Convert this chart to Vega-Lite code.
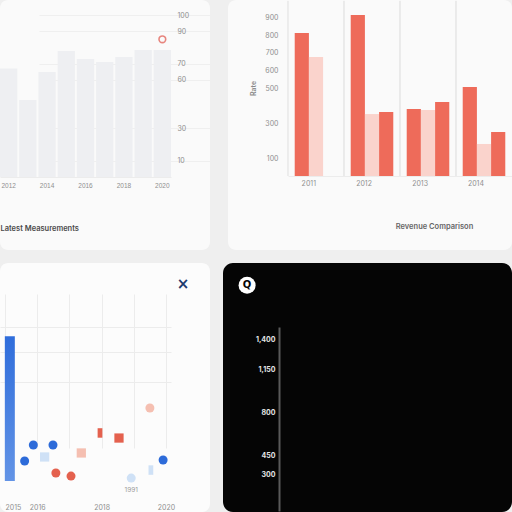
{
  "$schema": "https://vega.github.io/schema/vega-lite/v6.json",
  "background": "#efefef",
  "padding": 0,
  "spacing": 13,
  "resolve": {"scale": {"color": "independent", "shape": "independent", "size": "independent"}},
  "vconcat": [
    {
      "spacing": 18,
      "bounds": "flush",
      "resolve": {"scale": {"color": "independent"}},
      "hconcat": [
        {
          "width": 210,
          "height": 250,
          "view": {"fill": "#fafafa", "stroke": null, "cornerRadius": 8},
          "layer": [
            {
              "data": {"values": [
                {"year": "2012", "reading": 67},
                {"year": "2013", "reading": 47.5},
                {"year": "2014", "reading": 64.8},
                {"year": "2015", "reading": 77.8},
                {"year": "2016", "reading": 72.8},
                {"year": "2017", "reading": 71},
                {"year": "2018", "reading": 74},
                {"year": "2019", "reading": 78.4},
                {"year": "2020", "reading": 78.4}
              ]},
              "mark": {"type": "bar", "color": "#eeeff2"},
              "encoding": {
                "x": {
                  "field": "year", "type": "ordinal",
                  "scale": {"range": [0, 171], "paddingInner": 0.1, "paddingOuter": 0},
                  "axis": {
                    "values": ["2012", "2014", "2016", "2018", "2020"],
                    "labelFont": "Liberation Sans", "labelFontSize": 6.5,
                    "labelAngle": 0, "offset": -73, "labelPadding": 5,
                    "domain": true, "domainColor": "#ececec",
                    "title": "Latest Measurements", "titleAnchor": "start",
                    "titlePadding": 36, "titleFontSize": 7.5, "titleFontWeight": 600,
                    "titleColor": "#4a4a4a"
                  }
                },
                "y": {
                  "field": "reading", "type": "quantitative",
                  "scale": {"domain": [0, 100], "range": [177, 15], "nice": false},
                  "axis": {
                    "orient": "right", "offset": -38, "labelPadding": 5,
                    "values": [10, 30, 60, 70, 90, 100],
                    "grid": true, "gridColor": "#efefef", "title": null
                  }
                }
              }
            },
            {
              "data": {"values": [{"year": "2020", "reading": 85}]},
              "mark": {"type": "point", "shape": "circle", "filled": false, "color": "#e0544a", "size": 45, "strokeWidth": 1.6},
              "encoding": {
                "x": {"field": "year", "type": "ordinal"},
                "y": {"field": "reading", "type": "quantitative"}
              }
            }
          ]
        },
        {
          "width": 284,
          "height": 250,
          "view": {"fill": "#fafafa", "stroke": null, "cornerRadius": 8},
          "data": {"values": [
            {"year": "2011", "series": "North", "sales": 812},
            {"year": "2011", "series": "Central", "sales": 676},
            {"year": "2012", "series": "North", "sales": 915},
            {"year": "2012", "series": "Central", "sales": 352},
            {"year": "2012", "series": "South", "sales": 364},
            {"year": "2013", "series": "North", "sales": 381},
            {"year": "2013", "series": "Central", "sales": 375},
            {"year": "2013", "series": "South", "sales": 420},
            {"year": "2014", "series": "North", "sales": 506},
            {"year": "2014", "series": "Central", "sales": 182},
            {"year": "2014", "series": "South", "sales": 250}
          ]},
          "layer": [
            {
              "mark": {"type": "rule", "color": "#e8e8e8", "strokeWidth": 1},
              "encoding": {
                "x": {"field": "year", "type": "ordinal", "bandPosition": -0.158},
                "y": {"datum": 995, "type": "quantitative"},
                "y2": {"datum": 0}
              }
            },
            {
              "mark": {"type": "bar"},
              "encoding": {
                "x": {
                  "field": "year", "type": "ordinal",
                  "scale": {"range": [60, 284], "paddingInner": 0.24, "paddingOuter": 0.12},
                  "axis": {
                    "labelAngle": 0, "offset": -74, "labelPadding": 7,
                    "domain": true, "domainColor": "#ececec",
                    "title": "Revenue Comparison", "titleX": 206, "titlePadding": 36,
                    "titleFontSize": 7.5, "titleFontWeight": 600, "titleColor": "#666666"
                  }
                },
                "xOffset": {"field": "series", "scale": {"domain": ["North", "Central", "South"], "paddingInner": 0}},
                "y": {
                  "field": "sales", "type": "quantitative",
                  "scale": {"domain": [0, 1000], "range": [176, 0], "nice": false},
                  "axis": {
                    "offset": -60, "labelPadding": 10,
                    "values": [100, 300, 500, 600, 700, 800, 900],
                    "title": "Rate", "titlePadding": 8, "titleFontSize": 7,
                    "titleColor": "#888888", "titleFontWeight": 600
                  }
                },
                "color": {
                  "field": "series", "type": "nominal",
                  "scale": {"domain": ["North", "Central", "South"], "range": ["#ee6b5a", "#fad3cc", "#ee6b5a"]},
                  "legend": null
                }
              }
            }
          ]
        }
      ]
    },
    {
      "spacing": 13,
      "bounds": "flush",
      "resolve": {"scale": {"color": "independent"}},
      "hconcat": [
        {
          "width": 210,
          "height": 249,
          "view": {"fill": "#fcfcfc", "stroke": null, "cornerRadius": 8},
          "encoding": {
            "x": {
              "field": "year", "type": "quantitative",
              "scale": {"domain": [2015, 2020], "range": [0, 171], "nice": false, "zero": false},
              "axis": {
                "values": [2015, 2016, 2017, 2018, 2019, 2020], "format": "d",
                "labelExpr": "datum.value == 2017 || datum.value == 2019 ? '' : datum.label",
                "labelAlign": {"condition": {"test": "datum.value <= 2015", "value": "left"}, "value": "center"},
                "labelFlush": false, "grid": true, "gridColor": "#ececec",
                "offset": -31, "labelPadding": 22, "title": null
              }
            },
            "y": {
              "field": "value", "type": "quantitative",
              "scale": {"domain": [0, 100], "range": [218, 64], "nice": false},
              "axis": {"values": [64, 84, 100], "labels": false, "grid": true, "gridColor": "#ececec", "title": null}
            }
          },
          "layer": [
            {
              "data": {"values": [{"year": 2015.15, "value": 94}]},
              "mark": {
                "type": "bar", "width": 10,
                "color": {"gradient": "linear", "x1": 0, "y1": 0, "x2": 0, "y2": 1,
                  "stops": [{"offset": 0, "color": "#2f6ddb"}, {"offset": 1, "color": "#6394e6"}]}
              }
            },
            {
              "data": {"values": [
                {"year": 2015.61, "value": 13, "series": "Direct", "form": "dot"},
                {"year": 2015.88, "value": 23.4, "series": "Direct", "form": "dot"},
                {"year": 2016.23, "value": 15.6, "series": "Direct est.", "form": "block"},
                {"year": 2016.49, "value": 23.4, "series": "Direct", "form": "dot"},
                {"year": 2016.58, "value": 5.2, "series": "Partner", "form": "dot"},
                {"year": 2017.05, "value": 3.2, "series": "Partner", "form": "dot"},
                {"year": 2017.37, "value": 18.2, "series": "Partner est.", "form": "block"},
                {"year": 2017.95, "value": 31.2, "series": "Partner", "form": "tall"},
                {"year": 2018.54, "value": 27.9, "series": "Partner", "form": "block"},
                {"year": 2019.5, "value": 47.4, "series": "Partner est.", "form": "dot"},
                {"year": 2018.92, "value": 1.9, "series": "Direct est.", "form": "dot"},
                {"year": 2019.53, "value": 7.1, "series": "Direct est.", "form": "tall"},
                {"year": 2019.91, "value": 13.6, "series": "Direct", "form": "dot"}
              ]},
              "mark": {"type": "point", "filled": true, "opacity": 1},
              "encoding": {
                "color": {
                  "field": "series", "type": "nominal",
                  "scale": {"domain": ["Direct", "Direct est.", "Partner", "Partner est."], "range": ["#2d6bd9", "#cfe1f6", "#e4614e", "#f5bfb1"]},
                  "legend": null
                },
                "shape": {
                  "field": "form", "type": "ordinal",
                  "scale": {"domain": ["dot", "block", "tall"], "range": ["circle", "square", "M-0.5,-1H0.5V1H-0.5Z"]},
                  "legend": null
                },
                "size": {
                  "field": "form", "type": "ordinal",
                  "scale": {"domain": ["dot", "block", "tall"], "range": [81, 90, 300]},
                  "legend": null
                }
              }
            },
            {
              "data": {"values": [{"year": 2018.92, "value": -6, "note": "1991"}]},
              "mark": {"type": "text", "font": "Inter", "fontSize": 6.5, "color": "#9a9a9a"},
              "encoding": {"text": {"field": "note"}}
            },
            {
              "data": {"values": [{"year": 2020.53, "value": 128, "note": "×"}]},
              "mark": {"type": "text", "font": "DejaVu Sans", "fontSize": 15, "fontWeight": "bold", "color": "#1f3a6e", "baseline": "middle"},
              "encoding": {"text": {"field": "note"}}
            }
          ]
        },
        {
          "width": 289,
          "height": 249,
          "view": {"fill": "#050505", "stroke": null, "cornerRadius": 10},
          "layer": [
            {
              "data": {"values": [{"level": 300}, {"level": 1400}]},
              "mark": {"type": "tick", "opacity": 0},
              "encoding": {
                "y": {
                  "field": "level", "type": "quantitative",
                  "scale": {"domain": [0, 1500], "range": [248, 64], "nice": false},
                  "axis": {
                    "offset": -56, "domain": true, "domainColor": "#5a5a5a", "domainWidth": 2,
                    "values": [300, 450, 800, 1150, 1400], "labelColor": "#e6e6e6",
                    "labelFontWeight": "bold", "labelPadding": 4, "title": null
                  }
                }
              }
            },
            {
              "data": {"values": [{"spot": 1, "level": 1841, "icon": "Q"}]},
              "layer": [
                {"mark": {"type": "point", "shape": "circle", "filled": true, "color": "#ffffff", "size": 290, "opacity": 1}},
                {"mark": {"type": "text", "font": "DejaVu Sans", "fontSize": 10, "fontWeight": "bold", "color": "#050505", "baseline": "middle"},
                 "encoding": {"text": {"field": "icon"}}}
              ],
              "encoding": {
                "x": {"field": "spot", "type": "quantitative", "scale": {"domain": [0, 12], "nice": false}, "axis": null},
                "y": {"field": "level", "type": "quantitative"}
              }
            }
          ]
        }
      ]
    }
  ],
  "config": {
    "view": {"stroke": null},
    "axis": {
      "labelFont": "Inter", "titleFont": "Inter", "labelFontSize": 7,
      "labelColor": "#8f8f8f", "domain": false, "ticks": false, "grid": false
    }
  }
}
